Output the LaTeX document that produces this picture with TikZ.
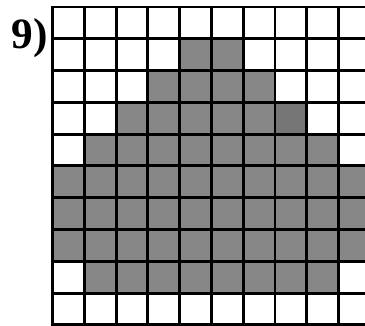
\documentclass[tikz,border=0pt]{standalone}
\usepackage{fontspec}
\setmainfont{Liberation Serif}
\usetikzlibrary{positioning}
\definecolor{cellgray}{RGB}{135,135,135}
\definecolor{darkcell}{RGB}{118,118,118}
\tikzset{
  filled/.style={fill=cellgray},
  darkfilled/.style={fill=darkcell},
  gridline/.style={line width=2.1pt,draw=black,line cap=rect},
  numlabel/.style={font=\fontsize{31}{31}\selectfont\bfseries,inner sep=0pt}
}
\begin{document}
\begin{tikzpicture}[x=0.8cm,y=0.8cm]
  \useasboundingbox (-1.65,-0.03) rectangle (9.83,10.22);

  % shaded cells: row from top / first col / last col
  \foreach \r/\a/\b in {2/5/6,3/4/7,4/3/8,5/2/9,6/1/10,7/1/10,8/1/10,9/2/9}{
    \fill[filled] (\a-1,10-\r) rectangle (\b,11-\r);
  }
  \fill[darkfilled] (7,6) rectangle (8,7);

  \foreach \i in {0,...,10}{
    \draw[gridline] (\i,0) -- (\i,10);
    \draw[gridline] (0,\i) -- (10,\i);
  }

  \node[numlabel] (lab) at (-0.72,9.02) {9)};
\end{tikzpicture}
\end{document}
